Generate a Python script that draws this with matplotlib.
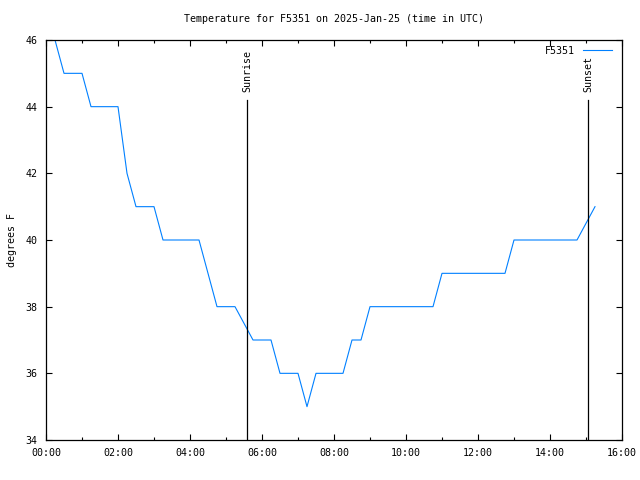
import matplotlib
matplotlib.use("Agg")
import matplotlib.pyplot as plt
from matplotlib.ticker import MultipleLocator, FuncFormatter

hours = [0.25, 0.5, 1.0, 1.25, 2.0, 2.25, 2.5, 3.0, 3.25, 4.25, 4.75, 5.25, 5.75,
         6.25, 6.5, 7.0, 7.25, 7.5, 8.25, 8.5, 8.75, 9.0, 10.75, 11.0, 12.75,
         13.0, 14.75, 15.25]
temps = [46, 45, 45, 44, 44, 42, 41, 41, 40, 40, 38, 38, 37,
         37, 36, 36, 35, 36, 36, 37, 37, 38, 38, 39, 39,
         40, 40, 41]
sunrise = 5.0 + 35 / 60
sunset = 15.0 + 3.5 / 60
station = "F5351"
title = "Temperature for F5351 on 2025-Jan-25 (time in UTC)"

plt.rcParams['font.family'] = ['DejaVu Sans Mono']
fs = 7.2

fig = plt.figure(figsize=(6.4, 4.8), dpi=100)
ax = fig.add_axes([46/640, 40/480, 576/640, 400/480])
ax.plot(hours, temps, color='#0080ff', lw=0.8, label=station)
ax.set_xlim(0, 16)
ax.set_ylim(34, 46)

for t, lab in [(sunrise, "Sunrise"), (sunset, "Sunset")]:
    ax.plot([t, t], [34, 44.2], color='black', lw=0.9)
    ax.text(t, 44.45, lab, rotation=90, ha='center', va='bottom', fontsize=fs)

ax.xaxis.set_major_locator(MultipleLocator(2))
ax.xaxis.set_minor_locator(MultipleLocator(1))
ax.yaxis.set_major_locator(MultipleLocator(2))
ax.xaxis.set_major_formatter(FuncFormatter(lambda v, p: f"{int(v):02d}:00"))
ax.tick_params(which='both', direction='in', top=True, right=True, labelsize=fs, width=0.8)
ax.tick_params(which='major', length=4.5, pad=6)
ax.tick_params(which='minor', length=2.2)
for s in ax.spines.values():
    s.set_linewidth(0.9)

ax.set_ylabel("degrees F", fontsize=fs, labelpad=6)
ax.set_title(title, fontsize=fs, pad=13)
leg = ax.legend(loc='upper right', fontsize=fs, frameon=False, markerfirst=False,
                handlelength=2.9, borderaxespad=0.0, bbox_to_anchor=(0.99, 0.995),
                handletextpad=0.8)

fig.savefig("out.png", dpi=100)
